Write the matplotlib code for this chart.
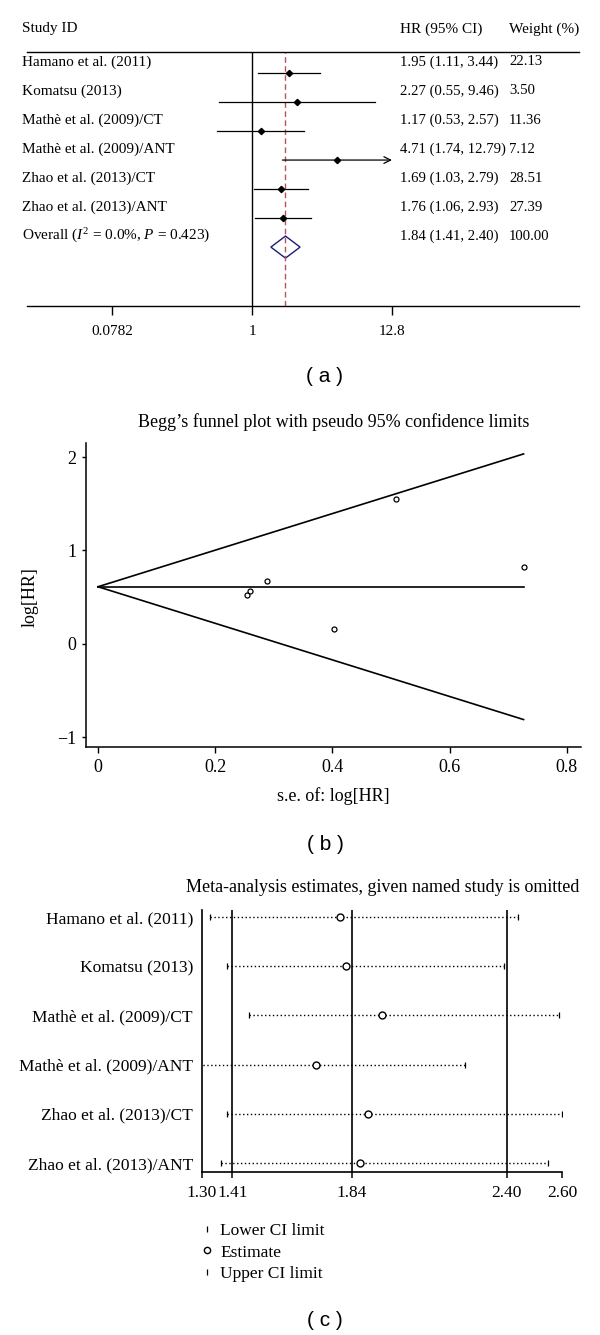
import matplotlib
matplotlib.use("Agg")
import matplotlib.pyplot as plt
import matplotlib.transforms as mtransforms
from matplotlib.lines import Line2D
from matplotlib.patches import Polygon
from matplotlib.ticker import NullLocator

plt.rcParams["font.family"] = ["Liberation Serif", "DejaVu Serif"]
plt.rcParams["mathtext.fontset"] = "custom"
plt.rcParams["mathtext.rm"] = "Liberation Serif"
plt.rcParams["mathtext.it"] = "Liberation Serif:italic"

# (a) forest plot
studies = ["Hamano et al. (2011)", "Komatsu (2013)", "Mathè et al. (2009)/CT",
           "Mathè et al. (2009)/ANT", "Zhao et al. (2013)/CT", "Zhao et al. (2013)/ANT"]
hr = [1.95, 2.27, 1.17, 4.71, 1.69, 1.76]
hr_lo = [1.11, 0.55, 0.53, 1.74, 1.03, 1.06]
hr_hi = [3.44, 9.46, 2.57, 12.79, 2.79, 2.93]
weights = ["22.13", "3.50", "11.36", "7.12", "28.51", "27.39"]
overall_hr, overall_lo, overall_hi = 1.84, 1.41, 2.40
overall_weight = "100.00"
overall_label = "Overall ($I^2$ = 0.0%, $P$ = 0.423)"
forest_ticks = [0.0782, 1, 12.8]
forest_ticklabels = ["0.0782", "1", "12.8"]

# (b) Begg's funnel plot
se_loghr = [0.289, 0.726, 0.403, 0.509, 0.254, 0.259]
loghr = [0.668, 0.820, 0.157, 1.550, 0.525, 0.565]
pooled_loghr = 0.61

# (c) leave-one-out estimates
omit_lo = [1.33, 1.39, 1.47, 1.29, 1.39, 1.37]
omit_est = [1.80, 1.82, 1.95, 1.71, 1.90, 1.87]
omit_hi = [2.44, 2.39, 2.59, 2.25, 2.60, 2.55]
full_ci = [1.41, 1.84, 2.40]
omit_ticks = [1.30, 1.41, 1.84, 2.40, 2.60]

W, H = 600, 1335
fig = plt.figure(figsize=(W / 100, H / 100), dpi=100)


def px_axes(left, right, top, bottom):
    return fig.add_axes([left / W, 1 - bottom / H, (right - left) / W, (bottom - top) / H])


# ---------- (a)
ax = px_axes(27, 579, 52, 306)
ax.set_xscale("log")
ax.set_xlim(0.01663, 385.3)
ax.set_ylim(8.03, -0.724)
for s in ["left", "right"]:
    ax.spines[s].set_visible(False)
for s in ["top", "bottom"]:
    ax.spines[s].set_linewidth(1.0)
ax.set_yticks([])
ax.set_xticks(forest_ticks)
ax.set_xticklabels(forest_ticklabels)
ax.xaxis.set_minor_locator(NullLocator())
ax.tick_params(axis="x", direction="out", length=6.5, width=1, pad=7, labelsize=11)

ax.axvline(1, color="k", lw=1)
ax.axvline(overall_hr, color="#b5525c", lw=1, ls=(0, (4, 2.5)))

tr = mtransforms.blended_transform_factory(ax.transAxes, ax.transData)
for i, name in enumerate(studies):
    if hr_hi[i] > 12.5:
        ax.annotate("", xy=(hr_hi[i], i), xytext=(hr_lo[i], i),
                    arrowprops=dict(arrowstyle="->", lw=0.9, color="k",
                                    shrinkA=0, shrinkB=0, mutation_scale=12))
    else:
        ax.plot([hr_lo[i], hr_hi[i]], [i, i], color="k", lw=0.9)
    ax.plot(hr[i], i, "D", color="k", ms=3.2)
    ax.text(-0.009, i - 0.38, name, transform=tr, va="center", fontsize=11)
    ax.text(0.6757, i - 0.38, f"{hr[i]:.2f} ({hr_lo[i]:.2f}, {hr_hi[i]:.2f})",
            transform=tr, va="center", fontsize=10.6)
    ax.text(0.8732, i - 0.38, weights[i], transform=tr, va="center", fontsize=10.6)

yo = len(studies)
diamond = Polygon([(overall_lo, yo), (overall_hr, yo - 0.38), (overall_hi, yo),
                   (overall_hr, yo + 0.38)], closed=True, fill=False,
                  edgecolor="#1c1c78", lw=1)
ax.add_patch(diamond)
ax.text(-0.009, yo - 0.38, overall_label, transform=tr, va="center", fontsize=11)
ax.text(0.6757, yo - 0.38, f"{overall_hr:.2f} ({overall_lo:.2f}, {overall_hi:.2f})",
        transform=tr, va="center", fontsize=10.6)
ax.text(0.8732, yo - 0.38, overall_weight, transform=tr, va="center", fontsize=10.6)

ax.text(-0.009, -1.517, "Study ID", transform=tr, va="center", fontsize=11)
ax.text(0.6757, -1.517, "HR (95% CI)", transform=tr, va="center", fontsize=11)
ax.text(0.8732, -1.517, "Weight (%)", transform=tr, va="center", fontsize=11)

fig.text(325 / W, 1 - 377 / H, "( a )", ha="center", va="center",
         fontsize=15, family="Liberation Sans")

# ---------- (b)
bx = px_axes(86, 581, 443, 747)
bx.set_xlim(-0.0205, 0.824)
bx.set_ylim(-1.107, 2.15)
bx.spines["top"].set_visible(False)
bx.spines["right"].set_visible(False)
for s in ["left", "bottom"]:
    bx.spines[s].set_linewidth(1.1)
bx.set_xticks([0, 0.2, 0.4, 0.6, 0.8])
bx.set_xticklabels(["0", "0.2", "0.4", "0.6", "0.8"])
bx.set_yticks([-1, 0, 1, 2])
bx.tick_params(axis="x", length=4.5, width=1, pad=4, labelsize=13)
bx.tick_params(axis="y", length=3, width=1, pad=4, labelsize=13)

se_max = max(se_loghr)
bx.plot([0, se_max], [pooled_loghr, pooled_loghr + 1.96 * se_max], color="k", lw=1.2)
bx.plot([0, se_max], [pooled_loghr, pooled_loghr - 1.96 * se_max], color="k", lw=1.2)
bx.plot([0, se_max], [pooled_loghr, pooled_loghr], color="k", lw=1.2)
bx.plot(se_loghr, loghr, "o", mfc="none", mec="k", ms=3.6, mew=0.9)

fig.text(334 / W, 1 - 422 / H, "Begg’s funnel plot with pseudo 95% confidence limits",
         ha="center", va="center", fontsize=13)
fig.text(30 / W, 1 - 597 / H, "log[HR]", rotation=90, ha="center", va="center", fontsize=13)
fig.text(333 / W, 1 - 796 / H, "s.e. of: log[HR]", ha="center", va="center", fontsize=13)
fig.text(325 / W, 1 - 845 / H, "( b )", ha="center", va="center",
         fontsize=15, family="Liberation Sans")

# ---------- (c)
cx = px_axes(202, 562, 910, 1172)
cx.set_xlim(1.30, 2.60)
cx.set_ylim(0.817, 6.142)
cx.spines["top"].set_visible(False)
cx.spines["right"].set_visible(False)
for s in ["left", "bottom"]:
    cx.spines[s].set_linewidth(1.2)
rows = [len(studies) - i for i in range(len(studies))]
cx.set_yticks(rows)
cx.set_yticklabels(studies)
cx.set_xticks(omit_ticks)
cx.set_xticklabels([f"{t:.2f}" for t in omit_ticks])
cx.tick_params(axis="y", length=0, pad=6.5, labelsize=12.5)
cx.tick_params(axis="x", length=4.3, width=1.1, pad=5, labelsize=12.5)

for v in full_ci:
    cx.axvline(v, color="k", lw=1.2)
for i, y in enumerate(rows):
    cx.plot([omit_lo[i], omit_hi[i]], [y, y], color="k", lw=1.0, ls=(0, (1, 1.8)))
    cx.plot(omit_lo[i], y, "|", color="k", ms=5, mew=0.9)
    cx.plot(omit_hi[i], y, "|", color="k", ms=5, mew=0.9)
    cx.plot(omit_est[i], y, "o", mfc="white", mec="k", ms=5, mew=1)

fig.text(383 / W, 1 - 887 / H, "Meta-analysis estimates, given named study is omitted",
         ha="center", va="center", fontsize=13)

handles = [Line2D([], [], ls="none", marker="|", color="k", ms=5, mew=0.9),
           Line2D([], [], ls="none", marker="o", mfc="none", mec="k", ms=4.5, mew=1),
           Line2D([], [], ls="none", marker="|", color="k", ms=5, mew=0.9)]
fig.legend(handles, ["Lower CI limit", "Estimate", "Upper CI limit"],
           loc="upper left", bbox_to_anchor=(202 / W, 1 - 1223 / H), frameon=False,
           fontsize=12.5, handlelength=0.6, handletextpad=0.45, labelspacing=0.3,
           borderpad=0, borderaxespad=0)

fig.text(325 / W, 1 - 1320 / H, "( c )", ha="center", va="center",
         fontsize=15, family="Liberation Sans")

fig.savefig("out.png", dpi=100)
